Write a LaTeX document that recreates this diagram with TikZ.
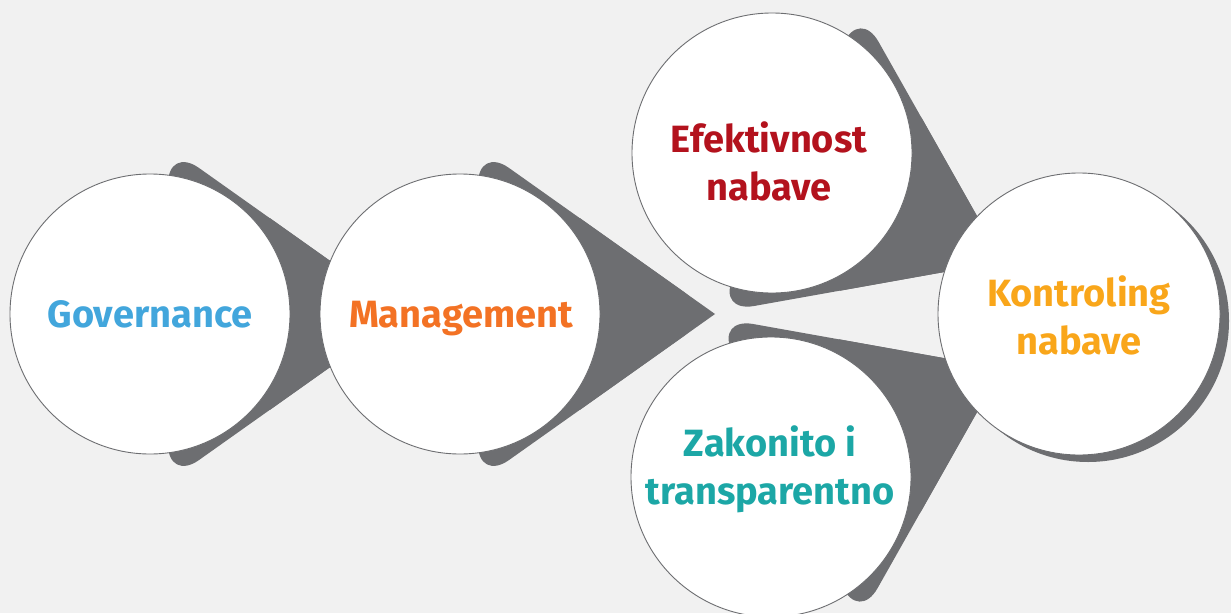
\documentclass[tikz,border=0pt]{standalone}
\usepackage{fontspec}
\setmainfont{Fira Sans}
\usetikzlibrary{calc}
\definecolor{bg}{HTML}{F1F1F1}
\definecolor{tailgray}{HTML}{6D6E71}
\definecolor{cblue}{HTML}{42A6DC}
\definecolor{corange}{HTML}{F37224}
\definecolor{cred}{HTML}{B3121D}
\definecolor{cteal}{HTML}{1CA7A6}
\definecolor{camber}{HTML}{F9A61A}
\tikzset{
  bubble/.style={circle, fill=white, draw=tailgray, line width=0.9pt, minimum size=280pt, inner sep=0pt},
  label/.style={font=\bfseries\fontsize{38}{48}\selectfont, align=center, inner sep=0pt},
  tail/.style={fill=tailgray},
}
\newcommand{\tailshape}[2]{%
  \begin{scope}[shift={(#1)}, rotate=#2]
    \fill[tail, rounded corners=38pt] (18,-168) -- (255,0) -- (18,168) -- cycle;
    \fill[tail] (255,0) -- (120,-95.8) -- (120,95.8) -- cycle;
  \end{scope}}
\begin{document}
\begin{tikzpicture}[x=1pt, y=-1pt]
\fill[bg] (0,0) rectangle (1231,613);
\useasboundingbox (0,0) rectangle (1231,613);
\coordinate (gov) at (150,314);
\coordinate (man) at (460,314);
\coordinate (efk) at (772,153);
\coordinate (zak) at (771,477);
\coordinate (kon) at (1079,314);
% tails
\tailshape{gov}{0}
\tailshape{man}{0}
\tailshape{efk}{-25.2}
\tailshape{zak}{25.2}
\fill[tail] ($(kon)+(9,7)$) circle (141pt);
% bubbles
\node[bubble] (govc) at (gov) {};
\node[bubble] (manc) at (man) {};
\node[bubble] (efkc) at (efk) {};
\node[bubble] (zakc) at (zak) {};
\node[bubble, minimum size=282pt] (konc) at (kon) {};
% labels
\node[label, text=cblue, anchor=base] (govt) at (150,327) {Governance};
\node[label, text=corange, anchor=base] (mant) at (461,327) {Management};
\node[label, text=cred] (efkt) at (769,161) {Efektivnost\\nabave};
\node[label, text=cteal] (zakt) at (770,469) {Zakonito i\\transparentno};
\node[label, text=camber] (kont) at (1079,315) {Kontroling\\nabave};
\end{tikzpicture}
\end{document}
